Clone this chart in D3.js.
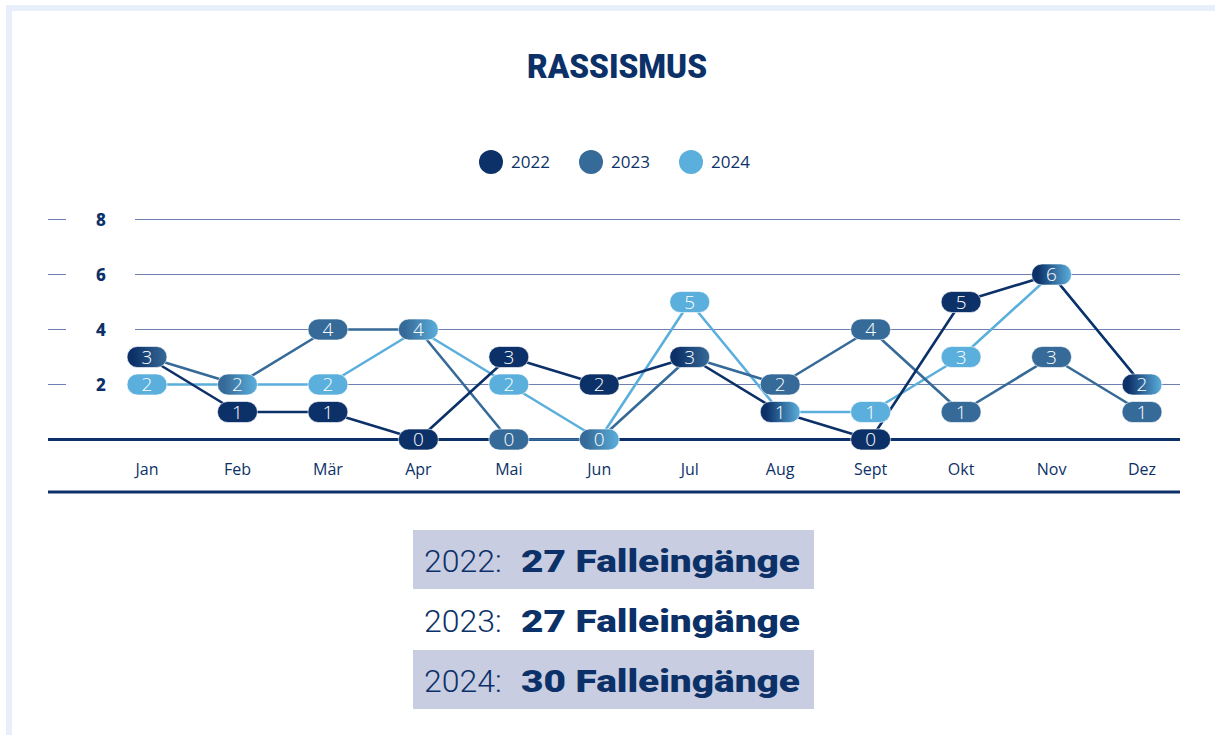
<!DOCTYPE html>
<html>
<head>
<meta charset="utf-8">
<script src="https://d3js.org/d3.v7.min.js"></script>
<style>
  body { margin: 0; background: #fff; }
  svg { display: block; }
</style>
</head>
<body>
<div id="chart"></div>
<script>
// data
var months = ["Jan", "Feb", "Mär", "Apr", "Mai", "Jun", "Jul", "Aug", "Sept", "Okt", "Nov", "Dez"];
var years = ["2022", "2023", "2024"];
var v2022 = [3, 1, 1, 0, 3, 2, 3, 1, 0, 5, 6, 2];
var v2023 = [3, 2, 4, 4, 0, 0, 3, 2, 4, 1, 3, 1];
var v2024 = [2, 2, 2, 4, 2, 0, 5, 1, 1, 3, 6, 2];
var yTicks = [2, 4, 6, 8];
var colors = ["#0c3168", "#366a98", "#5bafdc"];

var series = [v2022, v2023, v2024];
var w = 1215, h = 735;
var navy = "#0c3168";

var svg = d3.select("#chart").append("svg")
  .attr("width", w)
  .attr("height", h);

// light frame
svg.append("rect").attr("x", 6).attr("y", 5).attr("width", w - 6).attr("height", 6).attr("fill", "#e8effb");
svg.append("rect").attr("x", 6).attr("y", 5).attr("width", 6).attr("height", h - 5).attr("fill", "#e8effb");

// title
svg.append("text")
  .attr("x", 617).attr("y", 78)
  .attr("text-anchor", "middle")
  .attr("textLength", 180)
  .attr("lengthAdjust", "spacingAndGlyphs")
  .style("font-family", "Roboto, 'DejaVu Sans', sans-serif")
  .style("font-weight", "900")
  .style("font-size", "33px")
  .attr("fill", navy)
  .text("RASSISMUS");

// legend
var legend = svg.selectAll(".legend")
  .data(years)
  .enter().append("g")
  .attr("class", "legend")
  .attr("transform", function (d, i) { return "translate(" + (491 + i * 100) + ",162)"; });
legend.append("circle").attr("r", 12).attr("fill", function (d, i) { return colors[i]; });
legend.append("text")
  .attr("x", 20).attr("y", 6)
  .style("font-family", "'Open Sans', sans-serif")
  .style("font-size", "17px")
  .attr("fill", navy)
  .text(function (d) { return d; });

// scales
var xStart = 135, xEnd = 1180, xLeft = 48;
var x = d3.scalePoint().domain(months).range([147, 1142]);
var y = d3.scaleLinear().domain([0, 8]).range([439.5, 219.5]);
var pillW = 40, pillH = 21;
function px(m) { return Math.min(x(m), xEnd - pillW / 2); }

// grid
svg.selectAll(".grid")
  .data(yTicks)
  .enter().append("line")
  .attr("x1", xStart).attr("x2", xEnd)
  .attr("y1", function (d) { return y(d); })
  .attr("y2", function (d) { return y(d); })
  .attr("stroke", "#6f80b0").attr("stroke-width", 1);
svg.selectAll(".dash")
  .data(yTicks)
  .enter().append("line")
  .attr("x1", xLeft).attr("x2", 66)
  .attr("y1", function (d) { return y(d); })
  .attr("y2", function (d) { return y(d); })
  .attr("stroke", "#6f80b0").attr("stroke-width", 1);
svg.selectAll(".ytick")
  .data(yTicks)
  .enter().append("text")
  .attr("x", 101)
  .attr("y", function (d) { return y(d) + 6; })
  .attr("text-anchor", "middle")
  .style("font-family", "'Noto Sans', sans-serif")
  .style("font-weight", "800")
  .style("font-size", "17px")
  .attr("fill", navy)
  .text(function (d) { return d; });

// baseline and bottom rule
svg.append("line").attr("x1", xLeft).attr("x2", xEnd).attr("y1", y(0)).attr("y2", y(0))
  .attr("stroke", navy).attr("stroke-width", 3);
svg.append("line").attr("x1", xLeft).attr("x2", xEnd).attr("y1", 492).attr("y2", 492)
  .attr("stroke", navy).attr("stroke-width", 3);

// month labels
svg.selectAll(".month")
  .data(months)
  .enter().append("text")
  .attr("x", function (d) { return x(d); })
  .attr("y", 475)
  .attr("text-anchor", "middle")
  .style("font-family", "'Open Sans', sans-serif")
  .style("font-size", "16px")
  .attr("fill", navy)
  .text(function (d) { return d; });

// lines
var line = d3.line()
  .x(function (d, i) { return px(months[i]); })
  .y(function (d) { return y(d); });
var order = [2, 1, 0];
svg.selectAll(".series")
  .data(order)
  .enter().append("path")
  .attr("d", function (k) { return line(series[k]); })
  .attr("fill", "none")
  .attr("stroke", function (k) { return colors[k]; })
  .attr("stroke-width", 2.6)
  .attr("stroke-linejoin", "round");

// pills: one per month/value, gradient when several years share it
var pills = [];
months.forEach(function (m, i) {
  var groups = d3.group(years.map(function (yr, k) { return k; }), function (k) { return series[k][i]; });
  groups.forEach(function (ks, val) {
    pills.push({ m: m, i: i, v: val, ks: ks.slice().sort() });
  });
});

var defs = svg.append("defs");
pills.forEach(function (p, j) {
  if (p.ks.length > 1) {
    var g = defs.append("linearGradient").attr("id", "pg" + j)
      .attr("x1", "0%").attr("x2", "100%").attr("y1", "0%").attr("y2", "0%");
    g.append("stop").attr("offset", "15%").attr("stop-color", colors[p.ks[0]]);
    g.append("stop").attr("offset", "100%").attr("stop-color", colors[p.ks[p.ks.length - 1]]);
    p.fill = "url(#pg" + j + ")";
  } else {
    p.fill = colors[p.ks[0]];
  }
});

var pg = svg.selectAll(".pill")
  .data(pills)
  .enter().append("g")
  .attr("transform", function (d) { return "translate(" + px(d.m) + "," + y(d.v) + ")"; });
pg.append("rect")
  .attr("x", -pillW / 2).attr("y", -pillH / 2)
  .attr("width", pillW).attr("height", pillH)
  .attr("rx", pillH / 2)
  .attr("fill", function (d) { return d.fill; })
  .attr("stroke", "#ffffff").attr("stroke-opacity", 0.6).attr("stroke-width", 1);
pg.append("text")
  .attr("y", 6.5)
  .attr("text-anchor", "middle")
  .style("font-family", "'Open Sans', sans-serif")
  .style("font-weight", "300")
  .style("font-size", "19px")
  .attr("fill", "#fff")
  .text(function (d) { return d.v; });

// totals
var rows = svg.selectAll(".total")
  .data(years)
  .enter().append("g")
  .attr("transform", function (d, i) { return "translate(413," + (530 + i * 60) + ")"; });
rows.append("rect")
  .attr("width", 401).attr("height", 59)
  .attr("fill", function (d, i) { return i === 1 ? "none" : "#c8cde2"; });
rows.append("text")
  .attr("x", 11).attr("y", 42)
  .style("font-size", "32px")
  .style("font-family", "Roboto, 'Liberation Sans', sans-serif")
  .style("font-weight", "300")
  .attr("fill", navy)
  .text(function (d) { return d + ":"; });
rows.append("text")
  .attr("x", 108).attr("y", 42)
  .attr("textLength", 279)
  .attr("lengthAdjust", "spacingAndGlyphs")
  .style("font-size", "32px")
  .style("font-family", "Roboto, 'DejaVu Sans', sans-serif")
  .style("font-weight", "900")
  .attr("fill", navy)
  .text(function (d, i) { return d3.sum(series[i]) + " Falleingänge"; });
</script>
</body>
</html>
